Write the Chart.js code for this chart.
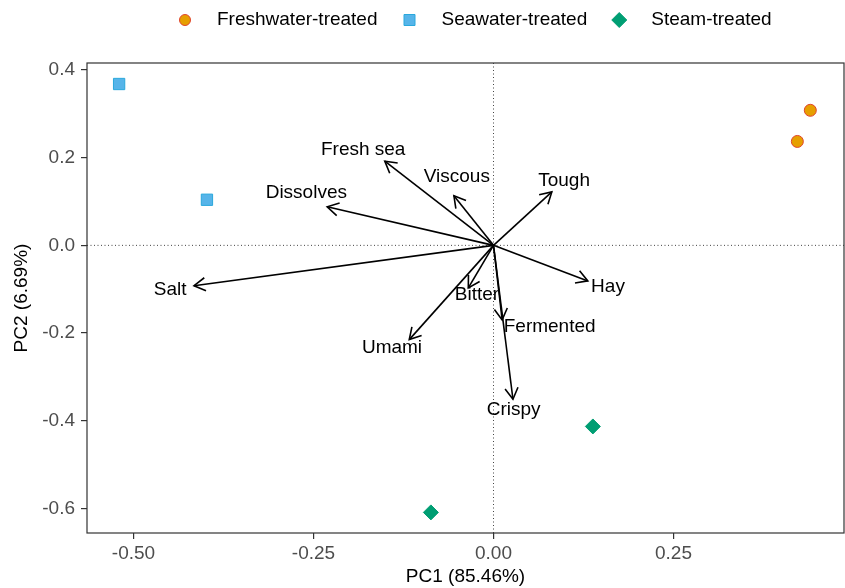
<!DOCTYPE html>
<html>
<head>
<meta charset="utf-8">
<script src="https://cdn.jsdelivr.net/npm/chart.js@4.4.1/dist/chart.umd.min.js"></script>
<style>
  html, body { margin: 0; padding: 0; background: #fff; }
  #wrap { width: 845px; height: 588px; }
</style>
</head>
<body>
<div id="wrap"><canvas id="pca"></canvas></div>
<script>
// sample scores
const groupNames = ['Freshwater-treated', 'Seawater-treated', 'Steam-treated'];
const freshX = [0.440, 0.422];
const freshY = [0.308, 0.237];
const seaX = [-0.520, -0.398];
const seaY = [0.368, 0.104];
const steamX = [0.138, -0.087];
const steamY = [-0.413, -0.609];

// loadings (arrow tips) and where their labels sit
const attrNames = ['Fresh sea', 'Viscous', 'Tough', 'Dissolves', 'Salt', 'Hay', 'Bitter', 'Fermented', 'Umami', 'Crispy'];
const attrX = [-0.151, -0.055, 0.081, -0.231, -0.416, 0.131, -0.035, 0.012, -0.117, 0.027];
const attrY = [0.192, 0.113, 0.122, 0.088, -0.092, -0.081, -0.097, -0.170, -0.215, -0.351];
const labelX = [-0.181, -0.051, 0.098, -0.260, -0.449, 0.159, -0.023, 0.078, -0.141, 0.028];
const labelY = [0.218, 0.156, 0.147, 0.120, -0.101, -0.095, -0.113, -0.186, -0.233, -0.375];

const xTicks = [-0.50, -0.25, 0.00, 0.25];
const yTicks = [0.4, 0.2, 0.0, -0.2, -0.4, -0.6];

const FONT = "'Liberation Sans', Arial, sans-serif";
const toPts = (xs, ys) => xs.map((x, i) => ({ x: x, y: ys[i] }));

const groupSets = [
  { label: groupNames[0], data: toPts(freshX, freshY), pointStyle: 'circle', pointRadius: 6,
    backgroundColor: '#E69F00', borderColor: '#E0452C', borderWidth: 1 },
  { label: groupNames[1], data: toPts(seaX, seaY), pointStyle: 'rect', pointRadius: 8,
    backgroundColor: '#56B4E9', borderColor: '#2AA8DC', borderWidth: 1 },
  { label: groupNames[2], data: toPts(steamX, steamY), pointStyle: 'rectRot', pointRadius: 7.5,
    backgroundColor: '#009E73', borderColor: '#009E73', borderWidth: 1 }
];

const arrowSets = attrNames.map((n, i) => ({
  label: n,
  data: [{ x: 0, y: 0 }, { x: attrX[i], y: attrY[i] }],
  showLine: true,
  borderColor: '#000',
  borderWidth: 1.6,
  pointRadius: 0
}));

// zero lines, arrow heads, labels, panel border and legend
const biplotExtras = {
  id: 'biplotExtras',
  beforeDatasetsDraw(chart) {
    const { ctx, chartArea: a, scales: { x, y } } = chart;
    ctx.save();
    ctx.strokeStyle = '#444';
    ctx.lineWidth = 1;
    ctx.setLineDash([1, 2.5]);
    ctx.beginPath();
    ctx.moveTo(x.getPixelForValue(0), a.top);
    ctx.lineTo(x.getPixelForValue(0), a.bottom);
    ctx.moveTo(a.left, y.getPixelForValue(0));
    ctx.lineTo(a.right, y.getPixelForValue(0));
    ctx.stroke();
    ctx.restore();
  },
  afterDatasetsDraw(chart) {
    const { ctx, scales: { x, y } } = chart;
    ctx.save();
    const ox = x.getPixelForValue(0), oy = y.getPixelForValue(0);
    ctx.strokeStyle = '#000';
    ctx.lineWidth = 1.6;
    attrNames.forEach((n, i) => {
      const tx = x.getPixelForValue(attrX[i]), ty = y.getPixelForValue(attrY[i]);
      const ang = Math.atan2(ty - oy, tx - ox);
      const len = 13, spread = Math.PI / 6;
      ctx.beginPath();
      ctx.moveTo(tx - len * Math.cos(ang - spread), ty - len * Math.sin(ang - spread));
      ctx.lineTo(tx, ty);
      ctx.lineTo(tx - len * Math.cos(ang + spread), ty - len * Math.sin(ang + spread));
      ctx.stroke();
    });
    ctx.fillStyle = '#000';
    ctx.font = '19px ' + FONT;
    ctx.textAlign = 'center';
    ctx.textBaseline = 'middle';
    attrNames.forEach((n, i) => {
      ctx.fillText(n, x.getPixelForValue(labelX[i]), y.getPixelForValue(labelY[i]));
    });
    ctx.restore();
  },
  afterDraw(chart) {
    const { ctx, chartArea: a } = chart;
    ctx.save();
    ctx.strokeStyle = '#333';
    ctx.lineWidth = 1.2;
    ctx.strokeRect(a.left, a.top, a.right - a.left, a.bottom - a.top);

    // legend
    ctx.font = '19px ' + FONT;
    ctx.textBaseline = 'middle';
    ctx.textAlign = 'left';
    let cx = 185;
    const cy = 20;
    groupSets.forEach(ds => {
      ctx.fillStyle = ds.backgroundColor;
      ctx.strokeStyle = ds.borderColor;
      ctx.lineWidth = 1;
      ctx.beginPath();
      if (ds.pointStyle === 'circle') {
        ctx.arc(cx, cy, 5.5, 0, Math.PI * 2);
      } else if (ds.pointStyle === 'rect') {
        ctx.rect(cx - 5.5, cy - 5.5, 11, 11);
      } else {
        ctx.moveTo(cx, cy - 7.5); ctx.lineTo(cx + 7.5, cy);
        ctx.lineTo(cx, cy + 7.5); ctx.lineTo(cx - 7.5, cy); ctx.closePath();
      }
      ctx.fill();
      ctx.stroke();
      ctx.fillStyle = '#000';
      ctx.fillText(ds.label, cx + 32, cy);
      cx += 32 + ctx.measureText(ds.label).width + 32;
    });
    ctx.restore();
  }
};

new Chart(document.getElementById('pca'), {
  type: 'scatter',
  data: { datasets: [...arrowSets, ...groupSets] },
  options: {
    responsive: true,
    maintainAspectRatio: false,
    animation: false,
    layout: { autoPadding: false, padding: { top: 63, right: 1, left: 0, bottom: 0 } },
    plugins: { legend: { display: false }, tooltip: { enabled: false } },
    scales: {
      x: {
        type: 'linear',
        min: -0.5646,
        max: 0.4868,
        afterBuildTicks: s => { s.ticks = xTicks.map(v => ({ value: v })); },
        afterFit: s => { s.height = 55; s.paddingLeft = 0; s.paddingRight = 0; },
        border: { display: false },
        grid: { drawOnChartArea: false, drawTicks: true, tickLength: 6, color: '#333', lineWidth: 1.2 },
        ticks: { callback: v => v.toFixed(2), color: '#4D4D4D', font: { family: FONT, size: 19 },
                 padding: 3, maxRotation: 0, autoSkip: false },
        title: { display: true, text: 'PC1 (85.46%)', color: '#000', font: { family: FONT, size: 19 },
                 padding: { top: 0, bottom: 0 } }
      },
      y: {
        type: 'linear',
        min: -0.656,
        max: 0.4159,
        afterBuildTicks: s => { s.ticks = yTicks.map(v => ({ value: v })); },
        afterFit: s => { s.width = 87; s.paddingTop = 0; s.paddingBottom = 0; },
        border: { display: false },
        grid: { drawOnChartArea: false, drawTicks: true, tickLength: 6, color: '#333', lineWidth: 1.2 },
        ticks: { callback: v => v.toFixed(1), color: '#4D4D4D', font: { family: FONT, size: 19 },
                 padding: 6, autoSkip: false },
        title: { display: true, text: 'PC2 (6.69%)', color: '#000', font: { family: FONT, size: 19 },
                 padding: { top: 10, bottom: 0 } }
      }
    }
  },
  plugins: [biplotExtras]
});
</script>
</body>
</html>
